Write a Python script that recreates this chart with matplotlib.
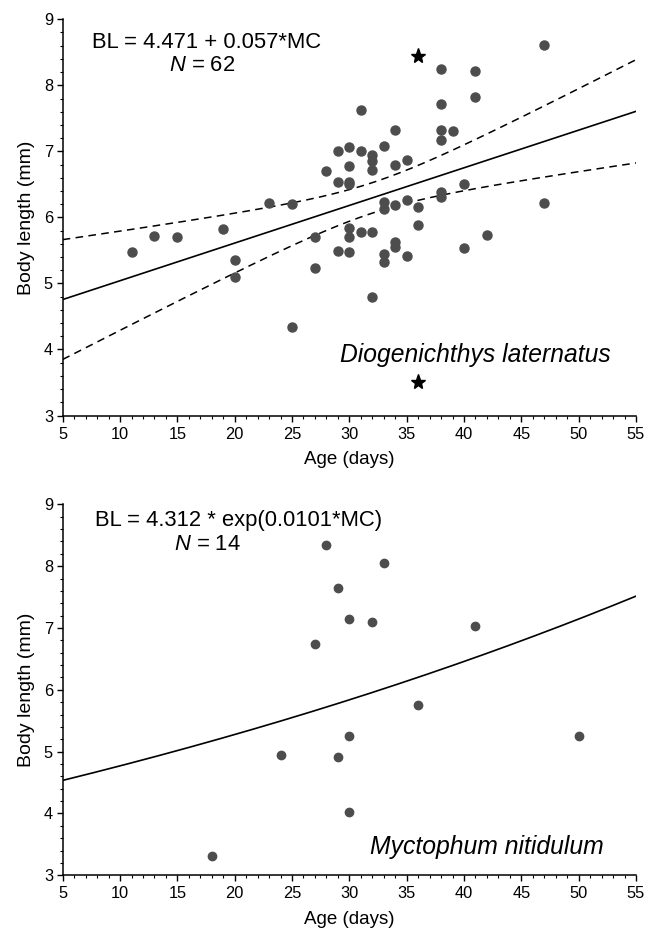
import numpy as np
import matplotlib
matplotlib.use("Agg")
import matplotlib.pyplot as plt
from matplotlib.ticker import MultipleLocator

plt.rcParams["font.family"] = ["Liberation Sans", "DejaVu Sans"]
plt.rcParams["mathtext.fontset"] = "custom"
plt.rcParams["mathtext.rm"] = "Liberation Sans"
plt.rcParams["mathtext.it"] = "Liberation Sans:italic"

# Diogenichthys laternatus: age (days) vs body length (mm)
dl_age = [11, 13, 15, 19, 20, 20, 23, 25, 25, 27, 27, 28,
          29, 29, 29,
          30, 30, 30, 30, 30, 30, 30,
          31, 31, 31,
          32, 32, 32, 32, 32,
          33, 33, 33, 33, 33,
          34, 34, 34, 34, 34,
          35, 35, 35,
          36, 36,
          38, 38, 38, 38, 38, 38,
          39, 40, 40, 41, 41, 42, 47, 47]
dl_len = [5.47, 5.72, 5.70, 5.82, 5.36, 5.10, 6.22, 6.20, 4.34, 5.70, 5.24, 6.70,
          7.01, 6.53, 5.49,
          7.06, 6.78, 6.54, 6.50, 5.84, 5.70, 5.47,
          7.63, 7.01, 5.78,
          6.94, 6.86, 6.72, 5.78, 4.80,
          7.08, 6.24, 6.13, 5.44, 5.33,
          7.33, 6.80, 6.19, 5.62, 5.55,
          6.87, 6.26, 5.42,
          6.16, 5.88,
          8.25, 7.71, 7.33, 7.17, 6.39, 6.31,
          7.31, 6.50, 5.53, 8.21, 7.83, 5.74, 8.61, 6.22]
dl_star_age = [36, 36]
dl_star_len = [8.44, 3.51]
dl_a, dl_b = 4.471, 0.057
t_crit = 2.0

# Myctophum nitidulum
mn_age = [28, 33, 29, 30, 32, 27, 41, 36, 30, 24, 29, 30, 18, 50]
mn_len = [8.34, 8.05, 7.65, 7.14, 7.09, 6.74, 7.03, 5.75, 5.26, 4.95, 4.92, 4.03, 3.31, 5.26]
mn_a, mn_b = 4.312, 0.0101

dot_color = "#4d4d4d"

fig = plt.figure(figsize=(6.56, 9.31), dpi=100)
ax1 = fig.add_axes([0.0956, 0.5537, 0.8739, 0.4256])
ax2 = fig.add_axes([0.0956, 0.0598, 0.8739, 0.3985])


def style_axis(ax):
    ax.set_xlim(5, 55)
    ax.set_ylim(3, 9)
    ax.xaxis.set_major_locator(MultipleLocator(5))
    ax.xaxis.set_minor_locator(MultipleLocator(1))
    ax.yaxis.set_major_locator(MultipleLocator(1))
    ax.yaxis.set_minor_locator(MultipleLocator(0.2))
    for s in ["top", "right"]:
        ax.spines[s].set_visible(False)
    for s in ["left", "bottom"]:
        ax.spines[s].set_linewidth(1.1)
    ax.tick_params(which="major", direction="out", length=4, width=1, labelsize=11.8)
    ax.tick_params(axis="x", which="major", pad=4)
    ax.tick_params(axis="y", which="major", pad=3)
    ax.tick_params(which="minor", direction="out", length=2, width=0.8)
    ax.set_xlabel("Age (days)", fontsize=13.5, labelpad=7)
    ax.set_ylabel("Body length (mm)", fontsize=14, labelpad=6)


# top panel: linear fit with 95% confidence band (stars counted in N = 62)
x = np.array(dl_age + dl_star_age, dtype=float)
y = np.array(dl_len + dl_star_len, dtype=float)
xs = np.linspace(5, 55, 200)
fit = dl_a + dl_b * xs
resid = y - (dl_a + dl_b * x)
n = len(x)
s = np.sqrt(np.sum(resid ** 2) / (n - 2))
sxx = np.sum((x - x.mean()) ** 2)
hw = t_crit * s * np.sqrt(1 / n + (xs - x.mean()) ** 2 / sxx)

ax1.plot(xs, fit, color="black", lw=1.2)
ax1.plot(xs, fit + hw, color="black", lw=1.1, ls=(0, (5, 3.5)))
ax1.plot(xs, fit - hw, color="black", lw=1.1, ls=(0, (5, 3.5)))
ax1.plot(dl_age, dl_len, "o", color=dot_color, ms=6.5, mec=dot_color, clip_on=False)
ax1.plot(dl_star_age, dl_star_len, "*", color="black", ms=11)
style_axis(ax1)
ax1.text(0.251, 0.941, "BL = 4.471 + 0.057*MC", transform=ax1.transAxes,
         ha="center", va="center", fontsize=15.8)
ax1.text(0.243, 0.883, "$N$ = 62", transform=ax1.transAxes,
         ha="center", va="center", fontsize=15.8)
ax1.text(0.719, 0.153, "Diogenichthys laternatus", transform=ax1.transAxes,
         ha="center", va="center", fontsize=17.7, style="italic")

# bottom panel: exponential fit
fit2 = mn_a * np.exp(mn_b * xs)
ax2.plot(xs, fit2, color="black", lw=1.2)
ax2.plot(mn_age, mn_len, "o", color=dot_color, ms=6, mec=dot_color)
style_axis(ax2)
ax2.text(0.307, 0.957, "BL = 4.312 * exp(0.0101*MC)", transform=ax2.transAxes,
         ha="center", va="center", fontsize=15.8)
ax2.text(0.252, 0.892, "$N$ = 14", transform=ax2.transAxes,
         ha="center", va="center", fontsize=15.8)
ax2.text(0.740, 0.077, "Myctophum nitidulum", transform=ax2.transAxes,
         ha="center", va="center", fontsize=17.8, style="italic")

fig.savefig("out.png", dpi=100, facecolor="white")
